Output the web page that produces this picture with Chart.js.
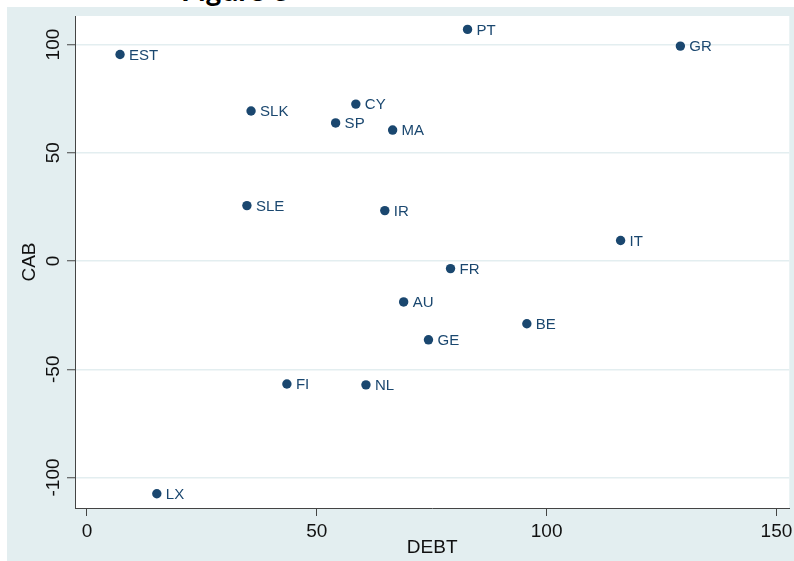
<!DOCTYPE html>
<html>
<head>
<meta charset="utf-8">
<script src="https://cdn.jsdelivr.net/npm/chart.js@4.4.1/dist/chart.umd.min.js"></script>
<style>
  html, body { margin: 0; padding: 0; background: #ffffff; overflow: hidden; }
  #wrap { position: relative; width: 794px; height: 561px; overflow: hidden; }
  #fig { position: absolute; left: 181px; top: -26px; font-family: Lato, "Open Sans", sans-serif; font-weight: bold; font-size: 30px; line-height: 1; color: #000; z-index: 0; white-space: nowrap; }
  #c { position: absolute; left: 0; top: 0; z-index: 1; }
</style>
</head>
<body>
<div id="wrap">
  <div id="fig">Figure 3</div>
  <canvas id="c" width="794" height="561"></canvas>
</div>
<script>
// ---- data ----
const countries = ["EST","PT","GR","SLK","CY","SP","MA","SLE","IR","IT","FR","AU","BE","GE","FI","NL","LX"];
const debt      = [7.2, 82.8, 129.1, 35.7, 58.5, 54.1, 66.5, 34.8, 64.8, 116.1, 79.1, 68.9, 95.7, 74.3, 43.5, 60.7, 15.2];
const cab       = [95.4, 107.0, 99.3, 69.3, 72.5, 63.8, 60.5, 25.6, 23.3, 9.5, -3.5, -18.9, -29.0, -36.4, -56.8, -57.2, -107.5];
const xTicks    = [0, 50, 100, 150];
const yTicks    = [-100, -50, 0, 50, 100];
const xTitle    = "DEBT";
const yTitle    = "CAB";

const NAVY = "#1a476f";
const BG = "#e3eef0";
const GRID = "#e3eef0";
const AXIS = "#444444";

const points = debt.map((d, i) => ({ x: d, y: cab[i] }));

const bgPlugin = {
  id: "bg",
  beforeDraw(chart) {
    const { ctx, chartArea } = chart;
    ctx.save();
    ctx.fillStyle = BG;
    ctx.fillRect(7, 7, chart.width - 7, chart.height - 7);
    ctx.fillStyle = "#ffffff";
    ctx.fillRect(chartArea.left, chartArea.top, chartArea.right - chartArea.left, chartArea.bottom - chartArea.top);
    ctx.restore();
  }
};

const labelPlugin = {
  id: "pointLabels",
  afterDatasetsDraw(chart) {
    const { ctx } = chart;
    const meta = chart.getDatasetMeta(0);
    ctx.save();
    ctx.font = "15px 'Liberation Sans', Arial, sans-serif";
    ctx.fillStyle = NAVY;
    ctx.textAlign = "left";
    ctx.textBaseline = "middle";
    meta.data.forEach((el, i) => {
      ctx.fillText(countries[i], el.x + 9, el.y + 1);
    });
    ctx.restore();
  }
};

new Chart(document.getElementById("c"), {
  type: "scatter",
  data: {
    datasets: [{
      data: points,
      backgroundColor: NAVY,
      borderColor: NAVY,
      borderWidth: 0,
      pointRadius: 4.7,
      pointHoverRadius: 4.7,
      pointStyle: "circle"
    }]
  },
  options: {
    responsive: false,
    animation: false,
    devicePixelRatio: 1,
    layout: { padding: { left: 0, top: 16, right: 4, bottom: 0 } },
    plugins: { legend: { display: false }, tooltip: { enabled: false }, title: { display: false } },
    scales: {
      x: {
        type: "linear",
        min: -2.6,
        max: 152.8,
        afterBuildTicks(scale) { scale.ticks = xTicks.map(v => ({ value: v })); },
        afterFit(scale) { scale.height = 53; scale.paddingLeft = 0; scale.paddingRight = 0; },
        grid: { display: true, drawOnChartArea: false, drawTicks: true, tickLength: 8, tickColor: AXIS, tickWidth: 1 },
        border: { display: true, color: AXIS, width: 1 },
        ticks: { color: "#111", padding: 4, maxRotation: 0, minRotation: 0, font: { family: "'Liberation Sans', Arial, sans-serif", size: 19 } },
        title: { display: true, text: xTitle, color: "#111", padding: { top: 0, bottom: 2 }, font: { family: "'Liberation Sans', Arial, sans-serif", size: 19 } }
      },
      y: {
        type: "linear",
        min: -114.1,
        max: 113.2,
        afterBuildTicks(scale) { scale.ticks = yTicks.map(v => ({ value: v })); },
        afterFit(scale) { scale.width = 75; scale.paddingTop = 0; scale.paddingBottom = 0; },
        grid: { display: true, drawOnChartArea: true, drawTicks: true, color: GRID, lineWidth: 1.5, tickLength: 8, tickColor: AXIS, tickWidth: 1 },
        border: { display: true, color: AXIS, width: 1 },
        ticks: { color: "#111", padding: -6, minRotation: 90, maxRotation: 90, crossAlign: "center", font: { family: "'Liberation Sans', Arial, sans-serif", size: 19 } },
        title: { display: true, text: yTitle, color: "#111", padding: { top: 18, bottom: 0 }, font: { family: "'Liberation Sans', Arial, sans-serif", size: 19 } }
      }
    }
  },
  plugins: [bgPlugin, labelPlugin]
});
</script>
</body>
</html>
